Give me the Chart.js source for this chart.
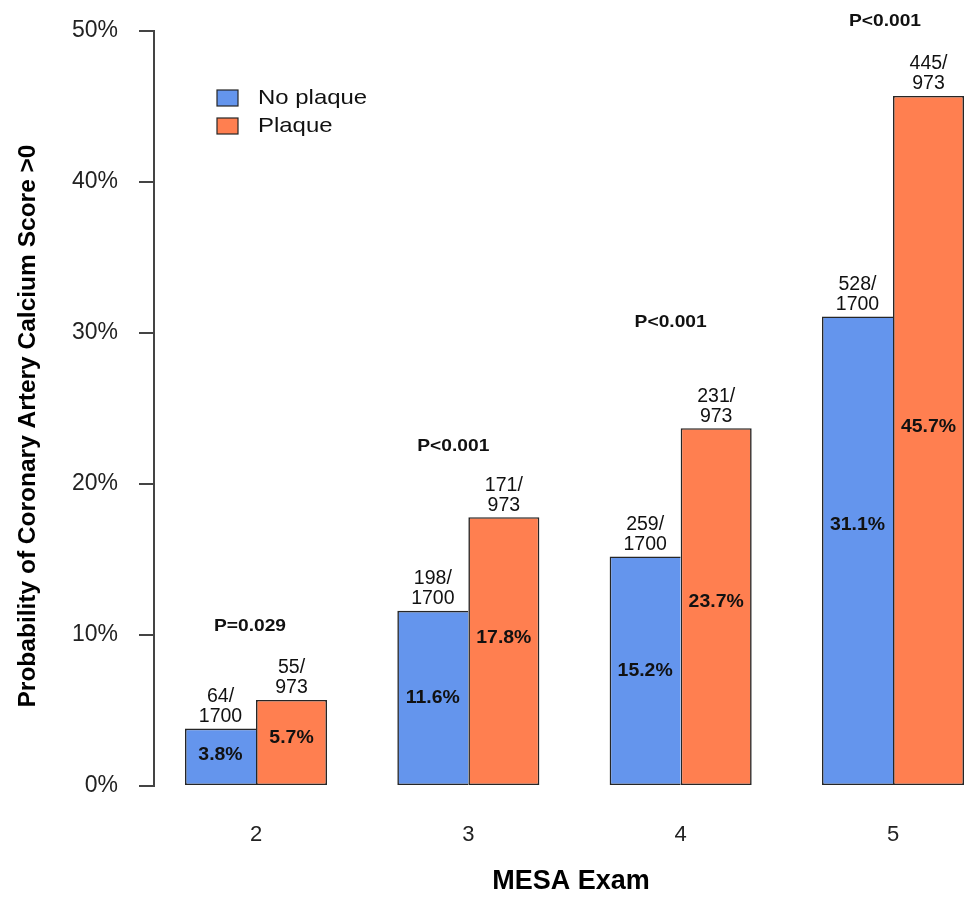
<!DOCTYPE html>
<html>
<head>
<meta charset="utf-8">
<title>CAC &gt; 0 by MESA Exam</title>
<script src="https://cdn.jsdelivr.net/npm/chart.js@4.4.1/dist/chart.umd.min.js"></script>
<style>
    html, body { margin: 0; padding: 0; background: #fff; }
    #wrap { width: 966px; height: 898px; }
</style>
</head>
<body>
<div id="wrap"><canvas id="cacChart" width="966" height="898"></canvas></div>
<script>
// MESA exam number and % with CAC > 0
const exams = [2, 3, 4, 5];
const noPlaquePct = [3.8, 11.6, 15.2, 31.1];
const plaquePct = [5.7, 17.8, 23.7, 45.7];
const noPlaqueCounts = ['64/', '198/', '259/', '528/'];
const noPlaqueTotals = ['1700', '1700', '1700', '1700'];
const plaqueCounts = ['55/', '171/', '231/', '445/'];
const plaqueTotals = ['973', '973', '973', '973'];
const pValues = ['P=0.029', 'P<0.001', 'P<0.001', 'P<0.001'];
const yTicks = [0, 10, 20, 30, 40, 50];

const FONT = '"Liberation Sans", Arial, Helvetica, sans-serif';
const BLUE = '#6495ED';
const CORAL = '#FF7F50';
const EDGE = '#262626';

// Fine placement of the annotation text (pixels)
const pctLift = [[2, 0, 0, 26], [4, 13, 5, 13]];
const pLift = [74, 71, 106, 75];
const pShift = [-6, -15, -10, -8];

document.addEventListener('DOMContentLoaded', function() {
    initChart();
});

function drawText(ctx, text, x, y, font, sx) {
    ctx.save();
    ctx.translate(x, y);
    ctx.scale(sx || 1, 1);
    ctx.font = font;
    ctx.fillText(text, 0, 0);
    ctx.restore();
}

/**
 * Labels, p-values, legend and axis titles
 */
const annotations = {
    id: 'annotations',
    afterDatasetsDraw(chart) {
        const ctx = chart.ctx;
        const blue = chart.getDatasetMeta(0).data;
        const coral = chart.getDatasetMeta(1).data;

        ctx.save();
        ctx.fillStyle = '#111';
        ctx.textAlign = 'center';
        ctx.textBaseline = 'middle';

        [[blue, noPlaqueCounts, noPlaqueTotals, noPlaquePct],
         [coral, plaqueCounts, plaqueTotals, plaquePct]].forEach(([bars, counts, totals, pct], d) => {
            bars.forEach((bar, i) => {
                // n / N above the bar
                drawText(ctx, counts[i], bar.x, bar.y - 32, '19.5px ' + FONT, 1);
                drawText(ctx, totals[i], bar.x, bar.y - 12, '19.5px ' + FONT, 1);
                // percentage inside the bar
                const mid = (bar.y + bar.base) / 2 - pctLift[d][i];
                drawText(ctx, pct[i].toFixed(1) + '%', bar.x, mid, 'bold 18px ' + FONT, 1.08);
            });
        });

        // p-values over each exam pair
        coral.forEach((bar, i) => {
            const cx = (blue[i].x + bar.x) / 2 + pShift[i];
            drawText(ctx, pValues[i], cx, bar.y - pLift[i], 'bold 17px ' + FONT, 1.13);
        });

        // legend
        const items = [['No plaque', BLUE, 90], ['Plaque', CORAL, 118]];
        items.forEach(([label, color, top]) => {
            ctx.fillStyle = color;
            ctx.fillRect(217, top, 21, 16);
            ctx.strokeStyle = EDGE;
            ctx.lineWidth = 1.2;
            ctx.strokeRect(217, top, 21, 16);
            ctx.fillStyle = '#111';
            ctx.textAlign = 'left';
            drawText(ctx, label, 258, top + 8, '21px ' + FONT, 1.14);
        });

        // axis titles
        ctx.textAlign = 'center';
        ctx.fillStyle = '#000';
        drawText(ctx, 'MESA Exam', 571, 882, 'bold 27px ' + FONT, 1);
        ctx.translate(28, 426);
        ctx.rotate(-Math.PI / 2);
        drawText(ctx, 'Probability of Coronary Artery Calcium Score >0', 0, 0, 'bold 24.5px ' + FONT, 1);
        ctx.restore();
    }
};

function initChart() {
    const canvas = document.getElementById('cacChart');
    const ctx = canvas.getContext('2d');

    new Chart(ctx, {
        type: 'bar',
        data: {
            datasets: [{
                label: 'No plaque',
                data: exams.map((x, i) => ({ x: x, y: noPlaquePct[i] })),
                backgroundColor: BLUE,
                borderColor: EDGE,
                borderWidth: 1.6,
                borderSkipped: 'right'
            }, {
                label: 'Plaque',
                data: exams.map((x, i) => ({ x: x, y: plaquePct[i] })),
                backgroundColor: CORAL,
                borderColor: EDGE,
                borderWidth: 1.6,
                borderSkipped: false
            }]
        },
        options: {
            responsive: false,
            animation: false,
            devicePixelRatio: 1,
            datasets: {
                bar: {
                    categoryPercentage: 0.669,
                    barPercentage: 1
                }
            },
            layout: {
                padding: { top: 31, right: 0, bottom: 0, left: 0 }
            },
            plugins: {
                legend: { display: false },
                tooltip: { enabled: false }
            },
            scales: {
                x: {
                    type: 'linear',
                    offset: false,
                    min: 1.5196,
                    max: 5.3438,
                    afterBuildTicks: scale => {
                        scale.ticks = exams.map(v => ({ value: v }));
                    },
                    afterFit: scale => {
                        scale.height = 112;
                    },
                    grid: { display: false, drawTicks: false, offset: false },
                    border: { display: false },
                    ticks: {
                        color: '#222',
                        padding: 36,
                        maxRotation: 0,
                        autoSkip: false,
                        font: { family: FONT, size: 22 },
                        callback: v => String(v)
                    }
                },
                y: {
                    min: 0,
                    max: 50,
                    afterBuildTicks: scale => {
                        scale.ticks = yTicks.map(v => ({ value: v }));
                    },
                    afterFit: scale => {
                        // fixed axis width; tick padding should not push the plot down
                        scale.width = 154;
                        scale.paddingTop = 14;
                        scale.paddingBottom = 14;
                    },
                    grid: {
                        drawOnChartArea: false,
                        drawTicks: true,
                        tickLength: 15,
                        color: '#444',
                        lineWidth: 2
                    },
                    border: { display: true, color: '#444', width: 2 },
                    ticks: {
                        color: '#222',
                        padding: 21,
                        font: { family: FONT, size: 23 },
                        callback: v => v + '%'
                    }
                }
            }
        },
        plugins: [annotations]
    });
}
</script>
</body>
</html>
